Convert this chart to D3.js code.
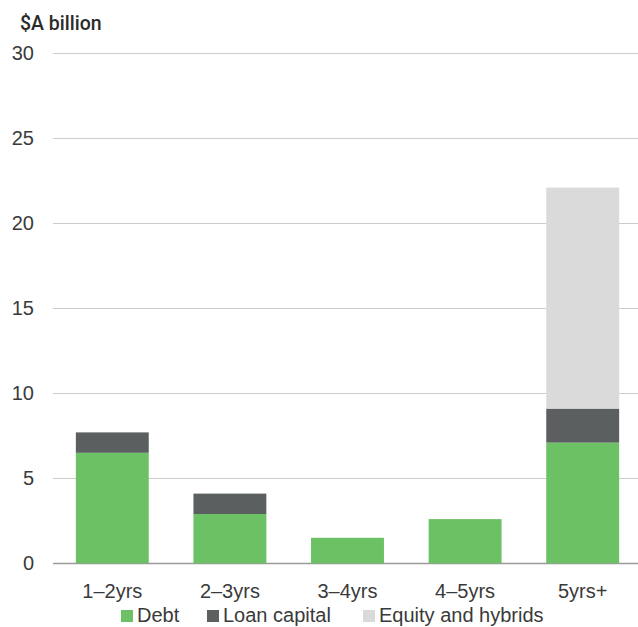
<html>
  <head>
    <script src="https://d3js.org/d3.v7.min.js"></script>
    <style>
      body { margin: 0; background: #fff; }
      text { font-family: "Liberation Sans", "Helvetica Neue", Arial, sans-serif; }
    </style>
  </head>
  <body>
<div id="my_dataviz"></div>
<script>
// data
var categories = ["1\u20132yrs", "2\u20133yrs", "3\u20134yrs", "4\u20135yrs", "5yrs+"];
var debt = [6.5, 2.9, 1.5, 2.6, 7.1];
var loanCapital = [1.2, 1.2, 0, 0, 2.0];
var equityHybrids = [0, 0, 0, 0, 13.0];
var seriesNames = ["Debt", "Loan capital", "Equity and hybrids"];
var seriesColors = ["#6cc164", "#5c5f60", "#dadada"];
var yTicks = [0, 5, 10, 15, 20, 25, 30];

var width = 638, height = 627;

var svg = d3.select("#my_dataviz")
  .append("svg")
    .attr("width", width)
    .attr("height", height);

var x = d3.scaleBand()
  .domain(categories)
  .range([53.5, 641.5])
  .paddingInner(0.38)
  .paddingOuter(0.19);

var y = d3.scaleLinear()
  .domain([0, 30])
  .range([563.3, 53.3]);

// gridlines
svg.append("g")
  .selectAll("line")
  .data(yTicks)
  .enter()
  .append("line")
    .attr("x1", 53)
    .attr("x2", width)
    .attr("y1", function (d) { return Math.round(y(d)) + 0.5; })
    .attr("y2", function (d) { return Math.round(y(d)) + 0.5; })
    .attr("stroke", function (d) { return d === 0 ? "#9a9a9a" : "#cccccc"; })
    .attr("stroke-width", function (d) { return d === 0 ? 1.5 : 1; });

// y tick labels
svg.append("g")
  .selectAll("text")
  .data(yTicks)
  .enter()
  .append("text")
    .attr("x", 34)
    .attr("y", function (d) { return y(d); })
    .attr("dy", "0.35em")
    .attr("text-anchor", "end")
    .style("font-size", "20px")
    .style("fill", "#3a3a3a")
    .text(function (d) { return d; });

// axis title
svg.append("text")
  .attr("x", 20)
  .attr("y", 30)
  .style("font-family", "Roboto, 'Liberation Sans', sans-serif")
  .style("font-size", "19.5px")
  .style("font-weight", "500")
  .style("fill", "#2a2a2a")
  .text("$A billion");

// stacked bars
var rows = categories.map(function (c, i) {
  return { cat: c, Debt: debt[i], "Loan capital": loanCapital[i], "Equity and hybrids": equityHybrids[i] };
});
var stacked = d3.stack().keys(seriesNames)(rows);

svg.append("g")
  .selectAll("g")
  .data(stacked)
  .enter()
  .append("g")
    .attr("fill", function (d, i) { return seriesColors[i]; })
  .selectAll("rect")
  .data(function (d) { return d.filter(function (p) { return p[1] - p[0] > 0; }); })
  .enter()
  .append("rect")
    .attr("x", function (d) { return x(d.data.cat); })
    .attr("width", x.bandwidth())
    .attr("y", function (d) { return y(d[1]); })
    .attr("height", function (d) { return y(d[0]) - y(d[1]); });

// x labels
svg.append("g")
  .selectAll("text")
  .data(categories)
  .enter()
  .append("text")
    .attr("x", function (d) { return x(d) + x.bandwidth() / 2; })
    .attr("y", 598)
    .attr("text-anchor", "middle")
    .style("font-size", "20px")
    .style("fill", "#3a3a3a")
    .text(function (d) { return d; });

// legend
var legendX = [121, 207, 363];
var legend = svg.append("g")
  .selectAll("g")
  .data(seriesNames)
  .enter()
  .append("g")
    .attr("transform", function (d, i) { return "translate(" + legendX[i] + ",0)"; });
legend.append("rect")
  .attr("x", 0)
  .attr("y", 610)
  .attr("width", 12)
  .attr("height", 12)
  .attr("fill", function (d, i) { return seriesColors[i]; });
legend.append("text")
  .attr("x", 16)
  .attr("y", 622)
  .style("font-size", "20px")
  .style("fill", "#3a3a3a")
  .text(function (d) { return d; });
</script>
  </body>
</html>
